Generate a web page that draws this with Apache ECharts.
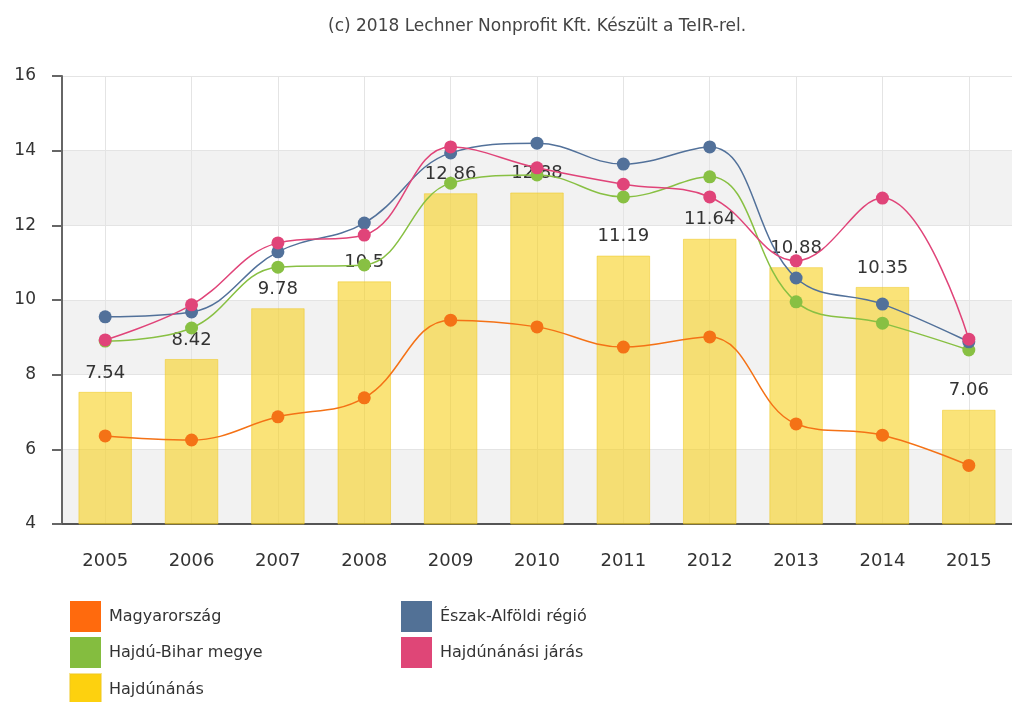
<!DOCTYPE html>
<html>
<head>
<meta charset="utf-8">
<script src="https://cdn.jsdelivr.net/npm/echarts@6/dist/echarts.min.js"></script>
<style>
html,body{margin:0;padding:0;background:#fff;}
#chart{width:1012px;height:702px;}
</style>
</head>
<body>
<div id="chart"></div>
<script>
const years = ['2005','2006','2007','2008','2009','2010','2011','2012','2013','2014','2015'];
const hajdunanas = [7.54, 8.42, 9.78, 10.5, 12.86, 12.88, 11.19, 11.64, 10.88, 10.35, 7.06];
const magyarorszag = [6.36, 6.25, 6.87, 7.38, 9.46, 9.28, 8.74, 9.01, 6.68, 6.38, 5.57];
const eszakAlfoldi = [9.55, 9.68, 11.29, 12.06, 13.94, 14.2, 13.64, 14.1, 10.59, 9.89, 8.88];
const hajduBihar = [8.9, 9.25, 10.88, 10.94, 13.13, 13.35, 12.76, 13.3, 9.95, 9.38, 8.66];
const jaras = [8.93, 9.87, 11.53, 11.74, 14.1, 13.54, 13.1, 12.76, 11.05, 12.73, 8.95];
const yTicks = [4, 6, 8, 10, 12, 14, 16];

const FONT = '"DejaVu Sans", Verdana, sans-serif';
const chart = echarts.init(document.getElementById('chart'));

function lineSeries(name, data, color) {
  return {
    name: name, type: 'line', data: data,
    smooth: 0.4,
    symbol: 'circle', symbolSize: 13,
    lineStyle: {color: color, width: 1.5},
    itemStyle: {color: color},
    emphasis: {disabled: true},
    z: 3
  };
}

const legendCommon = {
  orient: 'vertical', top: 601, height: 120, padding: 0,
  itemWidth: 31, itemHeight: 31, itemGap: 5, icon: 'rect',
  textStyle: {fontFamily: FONT, fontSize: 16, color: '#333', padding: [0, 0, 0, 3]}
};

chart.setOption({
  animation: false,
  textStyle: {fontFamily: FONT},
  title: {
    text: '(c) 2018 Lechner Nonprofit Kft. Készült a TeIR-rel.',
    left: 328, top: 18, padding: 0,
    textStyle: {fontFamily: FONT, fontSize: 17, fontWeight: 'normal', color: '#444'}
  },
  grid: {left: 62, right: -9, top: 76, bottom: 178, containLabel: false},
  legend: [
    Object.assign({}, legendCommon, {
      left: 69,
      data: [
        {name: 'Magyarország', itemStyle: {color: '#ff6a0d'}},
        {name: 'Hajdú-Bihar megye', itemStyle: {color: '#84bd3f'}},
        {name: 'Hajdúnánás', itemStyle: {color: '#fdd10f'}}
      ]
    }),
    Object.assign({}, legendCommon, {
      left: 401,
      data: [
        {name: 'Észak-Alföldi régió', itemStyle: {color: '#527196'}},
        {name: 'Hajdúnánási járás', itemStyle: {color: '#df4677'}}
      ]
    })
  ],
  xAxis: {
    type: 'category', data: years,
    axisLine: {lineStyle: {color: '#555', width: 2}},
    axisTick: {alignWithLabel: true, length: 10, lineStyle: {color: '#555', width: 2}},
    axisLabel: {fontFamily: FONT, fontSize: 18, color: '#333', margin: 28},
    splitLine: {show: true, alignWithLabel: true, lineStyle: {color: '#e4e4e4', width: 1}}
  },
  yAxis: {
    type: 'value', min: yTicks[0], max: yTicks[yTicks.length - 1], interval: 2,
    axisLine: {show: true, lineStyle: {color: '#666', width: 2}},
    axisTick: {show: true, length: 10, lineStyle: {color: '#666', width: 2}},
    axisLabel: {fontFamily: FONT, fontSize: 17, color: '#333', margin: 26},
    splitLine: {show: true, lineStyle: {color: '#e4e4e4', width: 1}},
    splitArea: {show: true, areaStyle: {color: ['#f2f2f2', '#ffffff']}}
  },
  series: [
    {
      name: 'Hajdúnánás', type: 'bar', data: hajdunanas,
      barWidth: '62%',
      itemStyle: {color: 'rgba(247,208,30,0.6)', borderColor: 'rgba(240,200,30,0.5)', borderWidth: 1},
      label: {show: true, position: 'top', distance: 10, fontFamily: FONT, fontSize: 18, color: '#333'},
      emphasis: {disabled: true},
      z: 1
    },
    lineSeries('Magyarország', magyarorszag, '#f47216'),
    lineSeries('Hajdú-Bihar megye', hajduBihar, '#88c043'),
    lineSeries('Észak-Alföldi régió', eszakAlfoldi, '#52719a'),
    lineSeries('Hajdúnánási járás', jaras, '#e04479')
  ]
});
</script>
</body>
</html>
